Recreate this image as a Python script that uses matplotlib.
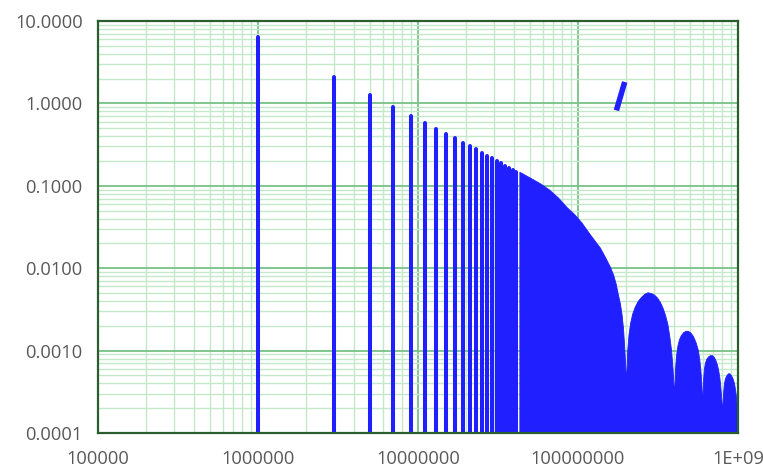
import numpy as np
import matplotlib.pyplot as plt
from matplotlib.ticker import LogLocator, FuncFormatter, FixedLocator
from matplotlib.lines import Line2D

# odd harmonics that stand apart as single lines (MHz) and their amplitudes
harm_mhz = [1, 3, 5, 7, 9, 11, 13, 15, 17, 19, 21, 23, 25, 27, 29, 31, 33, 35, 37, 39, 41]
harm_amp = [6.37, 2.12, 1.27, 0.91, 0.71, 0.58, 0.49, 0.425, 0.375, 0.335, 0.303,
            0.277, 0.252, 0.232, 0.215, 0.200, 0.187, 0.176, 0.166, 0.157, 0.149]

# above ~40 MHz the lines merge, so the spectrum is drawn by its envelope
env_mhz = [43, 50, 58, 66, 75, 85, 95, 105, 115, 125, 137, 148, 158, 166, 172, 178, 183,
           187, 191, 194, 197, 199,
           200, 203, 207, 212, 218, 226, 236, 248, 260, 272, 285, 298, 312, 325, 338, 350,
           362, 372, 382, 390, 396,
           400, 404, 410, 418, 428, 440, 455, 470, 485, 500, 515, 530, 545, 560, 572, 582,
           590, 596,
           600, 605, 612, 622, 635, 650, 668, 688, 705, 722, 738, 752, 765, 776, 786, 794,
           800, 806, 815, 828, 845, 865, 885, 905, 925, 945, 960, 975, 990, 1000]
env_amp = [0.148, 0.126, 0.107, 0.090, 0.072, 0.055, 0.045, 0.036, 0.028, 0.0225, 0.0178,
           0.0135, 0.0105, 0.0083, 0.0065, 0.0047, 0.0037, 0.0028, 0.0019, 0.0012, 0.0007,
           0.00045,
           0.00045, 0.0010, 0.0016, 0.0022, 0.0028, 0.0034, 0.0040, 0.0045, 0.0049, 0.0051,
           0.0050, 0.0048, 0.0044, 0.0039, 0.0033, 0.0027, 0.0021, 0.0015, 0.0010, 0.0006,
           0.00035,
           0.00035, 0.0006, 0.00088, 0.00115, 0.00138, 0.00155, 0.00168, 0.00174, 0.00174,
           0.00168, 0.00157, 0.00142, 0.00124, 0.00103, 0.0008, 0.00058, 0.0004, 0.00025,
           0.00028, 0.00045, 0.0006, 0.00072, 0.0008, 0.00085, 0.00088, 0.00088, 0.00084,
           0.00077, 0.00068, 0.00058, 0.00047, 0.00036, 0.00026, 0.00019,
           0.00022, 0.0003, 0.00039, 0.00046, 0.0005, 0.00053, 0.00053, 0.0005, 0.00046,
           0.0004, 0.00033, 0.00026, 0.00019, 0.00015]

x_ticks = [1e5, 1e6, 1e7, 1e8, 1e9]
x_labels = ["100000", "1000000", "10000000", "100000000", "1E+09"]

blue = "#1F1FFF"
ymin = 1e-4

plt.rcParams["font.family"] = ["Open Sans", "DejaVu Sans"]

fig = plt.figure(figsize=(7.63, 4.68), dpi=100)
ax = fig.add_axes([98 / 763, 1 - 433 / 468, 640 / 763, 412 / 468])

f_h = np.array(harm_mhz) * 1e6
ax.vlines(f_h, ymin, harm_amp, color=blue, lw=2.9, capstyle="round")
ax.fill_between(np.array(env_mhz) * 1e6, ymin, env_amp, color=blue, lw=0.6,
                edgecolor=blue)

ax.set_xscale("log")
ax.set_yscale("log")
ax.set_xlim(1e5, 1e9)
ax.set_ylim(1e-4, 10)

ax.xaxis.set_major_locator(FixedLocator(x_ticks))
ax.xaxis.set_major_formatter(FuncFormatter(lambda v, p: x_labels[x_ticks.index(v)] if v in x_ticks else ""))
ax.xaxis.set_minor_locator(LogLocator(base=10, subs=np.arange(2, 10), numticks=20))
ax.yaxis.set_major_locator(LogLocator(base=10, numticks=10))
ax.yaxis.set_minor_locator(LogLocator(base=10, subs=np.arange(2, 10), numticks=20))
ax.yaxis.set_major_formatter(FuncFormatter(lambda v, p: f"{v:.4f}"))
ax.xaxis.set_minor_formatter(FuncFormatter(lambda v, p: ""))
ax.yaxis.set_minor_formatter(FuncFormatter(lambda v, p: ""))

ax.set_axisbelow(True)
ax.grid(which="minor", color="#C4E8CA", lw=1.0)
ax.grid(which="major", color="#78C286", lw=1.3)

ax.tick_params(which="both", length=0, labelsize=13.2, labelcolor="#595959")
ax.tick_params(axis="x", pad=12)
ax.tick_params(axis="y", pad=11)
for s in ax.spines.values():
    s.set_color("#2A5E2E")
    s.set_linewidth(1.6)

# small series key
ax.add_line(Line2D([0.810, 0.823], [0.783, 0.852], transform=ax.transAxes,
                   color=blue, lw=4, solid_capstyle="butt"))

fig.savefig("out.png", dpi=100)
